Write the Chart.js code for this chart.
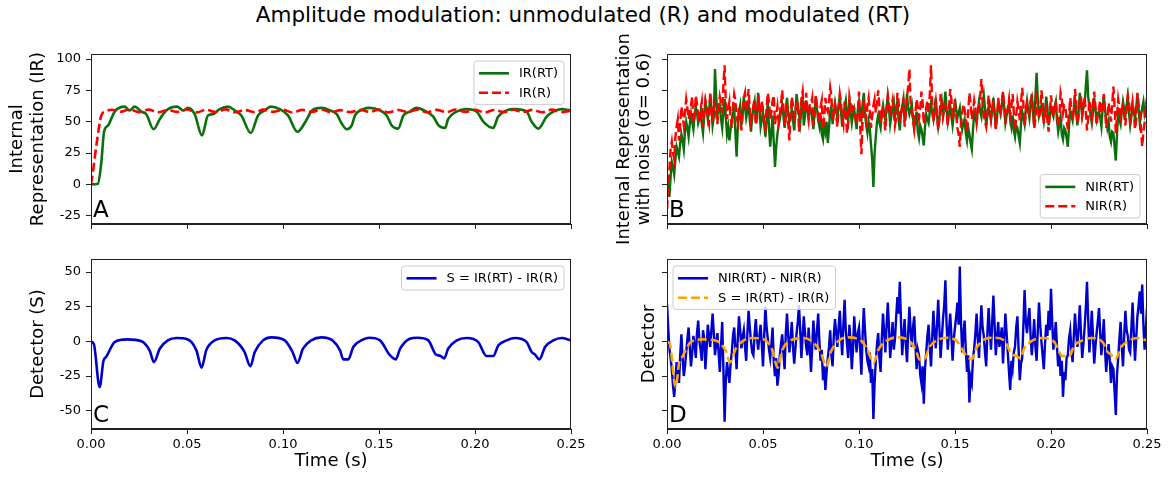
<!DOCTYPE html>
<html lang="en">
<head>
<meta charset="UTF-8">
<title>Amplitude modulation</title>
<script src="https://cdn.jsdelivr.net/npm/chart.js"></script>
<style>
    body {
        margin: 0;
        background: #fff;
        width: 1170px;
        height: 480px;
        position: relative;
        overflow: hidden;
        font-family: "DejaVu Sans", sans-serif;
    }

    h1 {
        position: absolute;
        left: 0;
        top: 2px;
        width: 1166px;
        margin: 0;
        font-size: 21.5px;
        font-weight: normal;
        line-height: 26px;
        text-align: center;
        color: #000;
    }

    canvas { position: absolute; }
    #panelA { left: 0; top: 0; }
    #panelB { left: 585px; top: 0; }
    #panelC { left: 0; top: 240px; }
    #panelD { left: 585px; top: 240px; }
</style>
</head>
<body>
<h1>Amplitude modulation: unmodulated (R) and modulated (RT)</h1>
<canvas id="panelA" width="600" height="250"></canvas>
<canvas id="panelB" width="585" height="250"></canvas>
<canvas id="panelC" width="600" height="240"></canvas>
<canvas id="panelD" width="585" height="240"></canvas>

<script>
// tick values
const xTicks = [0, 0.05, 0.1, 0.15, 0.2, 0.25];
const irTicks = [-25, 0, 25, 50, 75, 100];
const detTicks = [-50, -25, 0, 25, 50];

// IR(RT): modulated internal representation, [time, value]
const irRT = [[0,0],[0.0036,0.5],[0.0054,18],[0.0068,42],[0.0089,47],[0.0123,58],[0.0175,62],[0.0201,59],
    [0.0227,62],[0.0262,58],[0.0288,56],[0.0326,44],[0.0358,52],[0.0392,59],[0.0449,62],[0.048,59],
    [0.0505,61],[0.054,56],[0.0578,39],[0.0609,55],[0.0635,56],[0.067,60],[0.0714,62],[0.0748,59],
    [0.0783,55],[0.0832,41],[0.087,55],[0.0905,59],[0.0936,62],[0.0983,60],[0.1026,55],[0.1075,42],
    [0.1121,51],[0.1151,59],[0.12,61],[0.1245,59],[0.128,56],[0.1306,48.5],[0.1332,44],[0.1358,47],
    [0.1375,55],[0.1418,60],[0.145,61],[0.1505,59],[0.154,55],[0.1566,47],[0.16,44.5],[0.1627,55],
    [0.166,58],[0.1693,61],[0.1748,58],[0.1783,54],[0.181,47],[0.1844,45],[0.186,52],[0.1904,58],
    [0.1957,60],[0.2009,58],[0.2043,50],[0.2095,45],[0.212,54],[0.2165,59],[0.2208,60],[0.2269,58],
    [0.2295,50],[0.233,44.5],[0.2373,54],[0.2408,58],[0.2451,60],[0.25,59]];

// IR(R): unmodulated internal representation, [time, value]
const irR = [[0,0],[0.001,10],[0.0028,31],[0.0054,55],[0.008,58.5],[0.011,59.5],[0.015,57.8],[0.02,59.8],
    [0.025,57.6],[0.03,59.6],[0.035,57.5],[0.04,59.4],[0.045,57.8],[0.05,59.7],[0.055,57.4],[0.06,59.5],
    [0.065,57.7],[0.07,59.8],[0.075,57.5],[0.08,59.3],[0.085,57.6],[0.09,59.6],[0.095,57.8],[0.1,59.5],
    [0.105,57.3],[0.11,59.4],[0.115,57.7],[0.12,59.7],[0.125,57.5],[0.13,59.2],[0.135,57.6],[0.14,59.5],
    [0.145,57.9],[0.15,59.6],[0.155,57.4],[0.16,59.3],[0.165,57.7],[0.17,59.6],[0.175,57.5],[0.18,59.4],
    [0.185,57.6],[0.19,59.7],[0.195,57.8],[0.2,59.5],[0.205,57.4],[0.21,59.3],[0.215,57.6],[0.22,59.5],
    [0.225,57.7],[0.23,59.4],[0.235,57.5],[0.24,59.6],[0.245,57.6],[0.25,58.8]];

// S = IR(RT) - IR(R), [time, value]
const detS = [[0,0],[0.0015,-2],[0.0045,-33],[0.0065,-14],[0.008,-11],[0.0095,-7],[0.0123,-0.5],[0.019,1.4],
    [0.026,0.2],[0.0305,-6.5],[0.0328,-15],[0.0358,-5.3],[0.040,0.7],[0.0445,2.4],[0.0505,1.4],[0.0549,-6.5],
    [0.0576,-19],[0.060,-6.5],[0.0644,0.7],[0.0705,2.4],[0.0748,0.7],[0.080,-7.7],[0.083,-18],[0.0853,-7.7],
    [0.0896,0.7],[0.0939,2.9],[0.1009,0.7],[0.105,-7.7],[0.1075,-15.5],[0.1104,-5.3],[0.1147,0.7],[0.12,2.9],
    [0.126,0.5],[0.1297,-6.5],[0.1314,-13],[0.134,-13],[0.1366,-4.1],[0.1418,1.4],[0.145,2.6],[0.1505,0.7],
    [0.1557,-10],[0.1587,-13],[0.161,-5.3],[0.166,1.9],[0.17,2.6],[0.1757,0.7],[0.1797,-9.6],[0.1818,-10.3],
    [0.184,-12.3],[0.186,-5.3],[0.1905,0.7],[0.1957,2.4],[0.2017,-0.5],[0.206,-10.6],[0.2095,-10.6],[0.2121,-3],
    [0.2165,0.7],[0.2208,2.4],[0.2269,-0.5],[0.2295,-7.7],[0.2313,-9.6],[0.2335,-13],[0.2365,-4.1],[0.2408,0.7],
    [0.2451,2.4],[0.25,0.7]];

// noisy versions, one value every 0.625 ms
const STEP = 0.000625;
const nirRT = [
    5, -2, -10, 6, 18, 14, 8, 20, 30, 26, 22, 33, 40, 35, 28, 42, 50, 45, 38, 48,
    56, 50, 44, 55, 62, 57, 49, 53, 58, 48, 41, 55, 66, 60, 52, 58, 70, 61, 47, 54,
    92, 70, 55, 60, 63, 52, 45, 58, 68, 54, 40, 46, 35, 44, 52, 57, 60, 41, 22, 45,
    58, 63, 47, 55, 70, 62, 53, 59, 64, 51, 42, 54, 61, 66, 50, 57, 73, 60, 46, 52,
    57, 48, 38, 52, 66, 45, 30, 42, 55, 33, 14, 30, 40, 47, 52, 58, 63, 55, 45, 60,
    69, 58, 50, 54, 60, 51, 43, 57, 72, 63, 56, 49, 62, 68, 47, 55, 67, 59, 54, 61,
    59, 52, 44, 58, 70, 60, 51, 46, 55, 40, 36, 48, 42, 50, 33, 45, 58, 62, 48, 57,
    65, 59, 53, 63, 71, 58, 46, 54, 62, 67, 55, 50, 68, 57, 49, 56, 60, 52, 44, 59,
    66, 58, 52, 64, 73, 56, 47, 41, 50, 44, 32, 20, -2, 25, 38, 50, 55, 49, 45, 57,
    63, 56, 51, 62, 70, 60, 48, 55, 61, 66, 54, 58, 67, 52, 43, 56, 62, 68, 50, 57,
    72, 61, 56, 60, 64, 53, 45, 50, 58, 42, 37, 47, 44, 38, 31, 46, 56, 52, 49, 58,
    65, 57, 52, 61, 69, 55, 46, 53, 60, 66, 55, 62, 74, 60, 50, 57, 63, 54, 47, 56,
    68, 60, 53, 57, 61, 50, 44, 49, 52, 41, 35, 45, 40, 33, 28, 44, 57, 53, 50, 59,
    66, 58, 54, 63, 71, 60, 47, 55, 62, 57, 51, 60, 69, 58, 45, 54, 64, 61, 56, 62,
    73, 62, 49, 55, 60, 65, 52, 46, 55, 43, 38, 47, 45, 39, 33, 48, 58, 53, 48, 60,
    67, 59, 53, 64, 72, 58, 46, 70, 89, 68, 55, 60, 63, 56, 50, 58, 70, 61, 47, 55,
    61, 57, 54, 62, 66, 51, 42, 48, 54, 40, 36, 45, 43, 37, 30, 46, 59, 55, 51, 60,
    68, 57, 47, 58, 73, 64, 55, 61, 64, 78, 91, 70, 62, 55, 49, 58, 69, 60, 52, 57,
    58, 53, 46, 60, 71, 59, 53, 45, 50, 38, 34, 42, 41, 30, 19, 40, 57, 52, 48, 58,
    66, 60, 55, 63, 70, 57, 47, 54, 63, 58, 52, 61, 72, 60, 49, 55, 61, 66, 56, 60, 65];
const nirR = [
    -20, -5, 12, 28, 34, 25, 20, 38, 46, 52, 35, 48, 62, 55, 47, 58, 68, 61, 52, 57,
    63, 70, 49, 54, 71, 64, 55, 50, 60, 66, 46, 58, 67, 62, 53, 48, 74, 63, 50, 59,
    64, 56, 48, 61, 70, 65, 57, 80, 95, 66, 52, 60, 66, 53, 45, 62, 72, 67, 54, 49,
    61, 55, 43, 57, 69, 73, 58, 64, 76, 60, 50, 56, 63, 68, 47, 52, 71, 62, 55, 67,
    59, 50, 44, 62, 73, 66, 52, 58, 67, 71, 48, 55, 62, 50, 56, 64, 75, 61, 46, 53,
    65, 48, 35, 57, 70, 63, 49, 60, 60, 66, 42, 51, 68, 74, 57, 62, 73, 58, 51, 64,
    64, 69, 47, 55, 71, 63, 55, 49, 62, 67, 44, 52, 69, 61, 58, 66, 77, 70, 50, 57,
    63, 55, 46, 60, 72, 65, 54, 48, 66, 59, 41, 50, 70, 64, 56, 62, 61, 53, 48, 58,
    74, 46, 24, 50, 65, 60, 52, 63, 69, 58, 45, 54, 63, 68, 57, 66, 75, 62, 49, 56,
    60, 52, 43, 59, 71, 64, 55, 61, 67, 58, 47, 53, 73, 66, 52, 57, 62, 69, 46, 55,
    70, 78, 92, 65, 58, 51, 44, 57, 68, 62, 53, 60, 74, 66, 48, 55, 61, 67, 56, 72,
    95, 63, 50, 58, 66, 55, 43, 52, 72, 64, 54, 60, 63, 57, 47, 61, 76, 68, 51, 59,
    64, 55, 45, 40, 30, 48, 57, 64, 60, 53, 42, 58, 73, 65, 52, 59, 67, 61, 49, 56,
    62, 70, 84, 66, 55, 50, 46, 58, 71, 63, 53, 60, 65, 56, 44, 53, 69, 62, 58, 66,
    74, 63, 48, 57, 61, 68, 55, 62, 72, 58, 43, 54, 66, 60, 51, 65, 77, 64, 47, 55,
    63, 58, 56, 67, 70, 61, 45, 52, 68, 63, 52, 59, 75, 66, 49, 56, 60, 51, 42, 57,
    71, 62, 54, 60, 66, 57, 46, 55, 73, 68, 57, 63, 62, 52, 44, 56, 69, 61, 51, 59,
    76, 66, 48, 54, 64, 70, 55, 61, 70, 58, 43, 52, 67, 60, 53, 65, 74, 62, 47, 56,
    61, 67, 56, 63, 72, 60, 45, 53, 65, 58, 50, 64, 78, 62, 41, 55, 68, 61, 54, 59,
    63, 55, 47, 60, 71, 66, 52, 58, 66, 57, 44, 51, 73, 64, 57, 45, 30, 42, 49, 62, 69];
const nirDiff = [
    27, 10, -5, -12, -20, -32, -40, -28, -15, -22, -30, -10, 5, -12, -25, -18, -8, 2, 10, -5,
    -18, -8, 4, -3, -12, 6, 15, 0, -6, -14, 8, 2, -20, -5, 12, 4, -4, 8, 20, 6,
    -10, -2, 6, -8, -22, -4, 14, -20, -58, -28, -15, -22, -30, -16, -8, 4, 10, -6, -20, 2,
    18, 8, -5, 3, 8, -4, -14, 6, 22, 10, 0, -8, -10, 5, 16, 2, -6, 4, 12, -2,
    -18, 4, 25, 10, 2, -6, -12, -2, 10, -15, -25, -12, -32, -24, -10, -2, 5, -8, -20, 6,
    20, 4, -8, 2, 14, -4, -16, -5, 6, 14, 26, 8, -12, 3, 18, 6, -4, -10, 10, -4,
    -22, -4, 15, 2, -6, 8, 20, 0, -14, -6, -28, -18, -35, -22, -12, -4, 8, -10, -18, 4,
    16, 6, -4, 10, 22, 5, -10, 12, 30, 8, -2, -12, 12, 0, -20, -6, 18, 4, -8, 6,
    10, -6, -24, 4, 24, 8, -6, -14, -18, -8, -30, -20, -56, -30, -14, -2, 6, -12, -22, 2,
    20, 6, -8, 12, 28, 10, -12, 0, 14, -6, 2, 18, 32, 20, 43, 14, -10, 4, 16, -2,
    -15, 6, 25, 8, -4, 10, 18, -2, -20, -6, -10, -24, -30, -18, -45, -20, -8, 4, 12, -4,
    -18, 2, 22, 6, -5, 12, 30, 10, -12, 2, 16, 26, 44, 12, -6, 8, 20, 4, -14, 2,
    10, 18, 28, 12, 54, 14, -8, 4, 15, -6, -22, -10, -44, -26, -30, -12, -5, 6, 20, 2,
    -12, 8, 26, 10, 4, -8, -18, 6, 24, 8, -6, 14, 33, 12, -10, 2, 14, -4, 2, 10,
    -16, 2, 20, 6, -8, -22, -35, -14, -20, -8, -4, 10, 18, -6, -28, -16, -12, 12, 37, 14,
    6, 16, 24, 4, -10, 2, 16, -4, -14, 8, 28, 12, 0, -10, -20, -2, 12, 4, 22, 8,
    38, 14, -6, 4, 14, -4, -18, -8, -25, -14, -40, -22, -28, -12, -10, 2, 8, -6, -15, 4,
    20, 6, -4, 10, 26, 6, -12, -2, 10, 24, 43, 16, -8, 6, 22, 4, -16, -4, 6, 14,
    24, 6, -10, 2, 16, -6, -22, -10, -2, -14, -30, -18, -20, -36, -53, -24, -12, 2, 14, -4,
    -18, 4, 22, 8, 4, -6, -8, 10, 28, 6, -14, 2, 18, 26, 36, 20, 41, 12, -6, 8, 24];

const FONT = '"DejaVu Sans", sans-serif';
const AXIS = '#222';

const pairs = arr => arr.map(([x, y]) => ({ x, y }));
const sampled = arr => arr.map((y, i) => ({ x: i * STEP, y }));

// frame, panel letter and legend box (matplotlib style)
const panelDecor = {
    id: 'panelDecor',
    afterDatasetsDraw(chart, args, opts) {
        const { ctx, chartArea: a } = chart;
        ctx.save();
        ctx.strokeStyle = AXIS;
        ctx.lineWidth = 1;
        ctx.strokeRect(a.left + 0.5, a.top + 0.5, a.width - 1, a.height - 1);

        ctx.fillStyle = '#000';
        ctx.font = '23px ' + FONT;
        ctx.textBaseline = 'alphabetic';
        ctx.fillText(opts.letter, a.left + 2, a.bottom - 7);

        const lg = opts.legend;
        ctx.font = '13px ' + FONT;
        const sets = lg.items.map(i => chart.data.datasets[i]);
        const textW = Math.max(...sets.map(d => ctx.measureText(d.label).width));
        const w = 45 + textW + 6;
        const rowH = 19.4;
        const h = 4.6 + rowH * sets.length;
        const x = lg.corner.includes('r') ? a.right - 7 - w : a.left + 6;
        const y = lg.corner.includes('t') ? a.top + 7 : a.bottom - 6 - h;
        ctx.beginPath();
        ctx.roundRect(x, y, w, h, 3);
        ctx.fillStyle = 'rgba(255,255,255,0.8)';
        ctx.fill();
        ctx.strokeStyle = '#cccccc';
        ctx.stroke();
        sets.forEach((d, k) => {
            const cy = y + 2.6 + rowH * (k + 0.5);
            ctx.beginPath();
            ctx.setLineDash(d.borderDash || []);
            ctx.strokeStyle = d.borderColor;
            ctx.lineWidth = Math.max(d.borderWidth, 2.6);
            ctx.moveTo(x + 5, cy);
            ctx.lineTo(x + 35, cy);
            ctx.stroke();
            ctx.setLineDash([]);
            ctx.fillStyle = '#000';
            ctx.textBaseline = 'middle';
            ctx.fillText(d.label, x + 45, cy + 0.5);
        });
        ctx.restore();
    }
};

function timeAxis(withLabels, height) {
    return {
        type: 'linear',
        min: 0,
        max: 0.25,
        afterBuildTicks: s => { s.ticks = xTicks.map(v => ({ value: v })); },
        afterFit: s => { s.height = height; },
        grid: { drawOnChartArea: false, tickLength: 5, tickColor: AXIS },
        border: { color: AXIS },
        ticks: {
            display: withLabels, padding: 3, color: '#000', maxRotation: 0,
            font: { family: FONT, size: 13 }, callback: v => v.toFixed(2)
        },
        title: {
            display: withLabels, text: 'Time (s)', color: '#000',
            font: { family: FONT, size: 18, lineHeight: 1.15 }, padding: { top: 0, bottom: 8.6 }
        }
    };
}

function levelAxis(min, max, tickVals, withLabels, width, titleText, titlePad) {
    return {
        type: 'linear',
        min: min,
        max: max,
        afterBuildTicks: s => { s.ticks = tickVals.map(v => ({ value: v })); },
        afterFit: s => { s.width = width; },
        grid: { drawOnChartArea: false, tickLength: 5, tickColor: AXIS },
        border: { color: AXIS },
        ticks: { display: withLabels, padding: 5, color: '#000', font: { family: FONT, size: 13 } },
        title: {
            display: true, text: titleText, color: '#000',
            font: { family: FONT, size: 18, lineHeight: 1.15 }, padding: { top: titlePad, bottom: 0 }
        }
    };
}

function makePanel(id, datasets, xAxis, yAxis, pad, decor) {
    new Chart(document.getElementById(id), {
        type: 'line',
        data: { datasets: datasets },
        options: {
            responsive: false,
            animation: false,
            layout: { padding: pad },
            elements: { point: { radius: 0 } },
            scales: { x: xAxis, y: yAxis },
            plugins: { legend: { display: false }, tooltip: { enabled: false }, panelDecor: decor }
        },
        plugins: [panelDecor]
    });
}

const GREEN = '#0b700b';
const RED = '#ff0000';
const BLUE = '#0000cc';
const ORANGE = '#ffa500';

// A: internal representation
makePanel('panelA', [
    { label: 'IR(RT)', data: pairs(irRT), borderColor: GREEN, borderWidth: 2.6, cubicInterpolationMode: 'monotone', order: 1 },
    { label: 'IR(R)', data: pairs(irR), borderColor: RED, borderWidth: 2.6, borderDash: [9, 4], cubicInterpolationMode: 'monotone', order: 0 }
], timeAxis(false, 26), levelAxis(-31.6, 104, irTicks, true, 91, ['Internal', 'Representation (IR)'], 7.2),
    { top: 54, right: 29, bottom: 0, left: 0 }, { letter: 'A', legend: { corner: 'tr', items: [0, 1] } });

// B: with noise
makePanel('panelB', [
    { label: 'NIR(RT)', data: sampled(nirRT), borderColor: GREEN, borderWidth: 2.4, order: 1 },
    { label: 'NIR(R)', data: sampled(nirR), borderColor: RED, borderWidth: 2.4, borderDash: [9, 4], order: 0 }
], timeAxis(false, 26), levelAxis(-31.6, 104, irTicks, false, 82, ['Internal Representation', 'with noise (σ= 0.6)'], 28.6),
    { top: 54, right: 23, bottom: 0, left: 0 }, { letter: 'B', legend: { corner: 'br', items: [0, 1] } });

// C: detector
makePanel('panelC', [
    { label: 'S = IR(RT) - IR(R)', data: pairs(detS), borderColor: BLUE, borderWidth: 2.6, cubicInterpolationMode: 'monotone' }
], timeAxis(true, 51), levelAxis(-63.2, 59.4, detTicks, true, 91, 'Detector (S)', 27.6),
    { top: 19, right: 29, bottom: 0, left: 0 }, { letter: 'C', legend: { corner: 'tr', items: [0] } });

// D: detector with noise
makePanel('panelD', [
    { label: 'NIR(RT) - NIR(R)', data: sampled(nirDiff), borderColor: BLUE, borderWidth: 2.4, order: 1 },
    { label: 'S = IR(RT) - IR(R)', data: pairs(detS), borderColor: ORANGE, borderWidth: 2.6, borderDash: [9, 4], cubicInterpolationMode: 'monotone', order: 0 }
], timeAxis(true, 51), levelAxis(-63.2, 59.4, detTicks, false, 82, 'Detector', 53.6),
    { top: 19, right: 23, bottom: 0, left: 0 }, { letter: 'D', legend: { corner: 'tl', items: [0, 1] } });
</script>
</body>
</html>
